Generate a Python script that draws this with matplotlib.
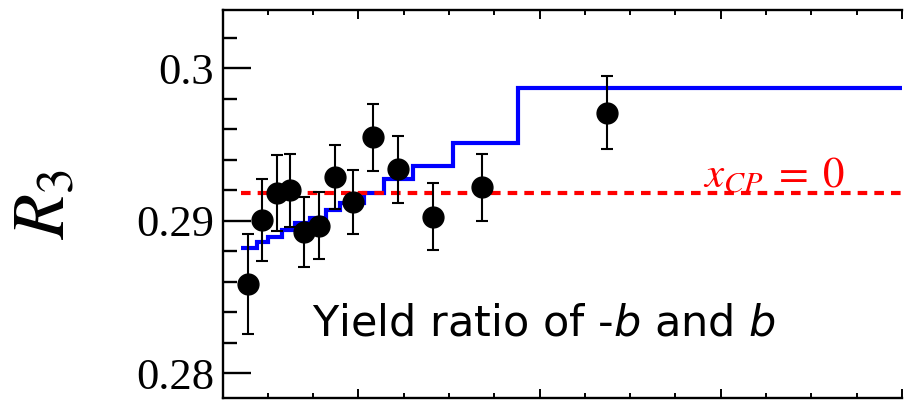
import numpy as np
import matplotlib.pyplot as plt
from matplotlib.ticker import MultipleLocator

# measured points
x = [0.39, 0.47, 0.55, 0.62, 0.70, 0.78, 0.87, 0.97, 1.08, 1.22, 1.41, 1.68, 2.37]
r3 = [0.28585, 0.29005, 0.29180, 0.29201, 0.28928, 0.28967, 0.29285,
      0.29121, 0.29547, 0.29337, 0.29026, 0.29219, 0.29708]
r3_err = [0.00325, 0.0027, 0.0025, 0.0024, 0.0023, 0.0022, 0.0021,
          0.0021, 0.0022, 0.0022, 0.0022, 0.0022, 0.0024]

# expectation per bin
edges = [0.35, 0.44, 0.50, 0.58, 0.65, 0.73, 0.82, 0.90, 1.03, 1.14, 1.30, 1.52, 1.88, 4.0]
expect = [0.28823, 0.28862, 0.28895, 0.28939, 0.28983, 0.2902, 0.2907,
          0.29114, 0.2918, 0.29274, 0.29357, 0.29508, 0.29868]

r3_nocp = 0.2918

fig = plt.figure(figsize=(9.08, 4.01), dpi=100)
ax = fig.add_axes([0.2452, 0.0075, 0.748, 0.9676])

ax.stairs(expect, edges, baseline=None, color='#0000ff', lw=3, zorder=2)
ax.plot([edges[0], edges[-1]], [r3_nocp, r3_nocp], color='#ff0000', lw=3,
        dashes=(2.3, 1.7), zorder=3)
ax.errorbar(x, r3, yerr=r3_err, fmt='o', color='black', ms=15, elinewidth=1.5,
            capsize=4, capthick=1.5, zorder=4)

ax.text(2.90, 0.29215, r'$x_{CP}\;=\;0$', color='#ff0000', fontsize=31,
        math_fontfamily='stix', ha='left', va='baseline')
ax.text(0.745, 0.2825, r'Yield ratio of -$\mathit{b}$ and $\mathit{b}$',
        fontsize=31, family='DejaVu Sans', math_fontfamily='dejavusans',
        ha='left', va='baseline')

ax.set_xlim(0.25, 4.0)
ax.set_ylim(0.27838, 0.30382)
ax.xaxis.set_major_locator(MultipleLocator(1))
ax.xaxis.set_minor_locator(MultipleLocator(0.25))
ax.yaxis.set_minor_locator(MultipleLocator(0.002))
ax.set_yticks([0.28, 0.29, 0.3], ['0.28', '0.29', '0.3'])
ax.set_xticklabels([])

ax.tick_params(axis='y', which='major', direction='in', length=20, width=1.7,
               labelsize=32, pad=6)
ax.tick_params(axis='y', which='minor', direction='in', length=10, width=1.7)
ax.tick_params(axis='x', which='major', direction='in', length=6.5, width=1.4,
               top=True, labelbottom=False)
ax.tick_params(axis='x', which='minor', direction='in', length=3.6, width=1.4,
               top=True)
for lab in ax.get_yticklabels():
    lab.set_fontfamily('Liberation Serif')

for side in ('left', 'top', 'bottom'):
    ax.spines[side].set_linewidth(1.7)
ax.spines['right'].set_visible(False)

ax.set_ylabel(r'$R_3$', fontsize=53, math_fontfamily='stix', labelpad=40)

fig.savefig('out.png', dpi=100)
